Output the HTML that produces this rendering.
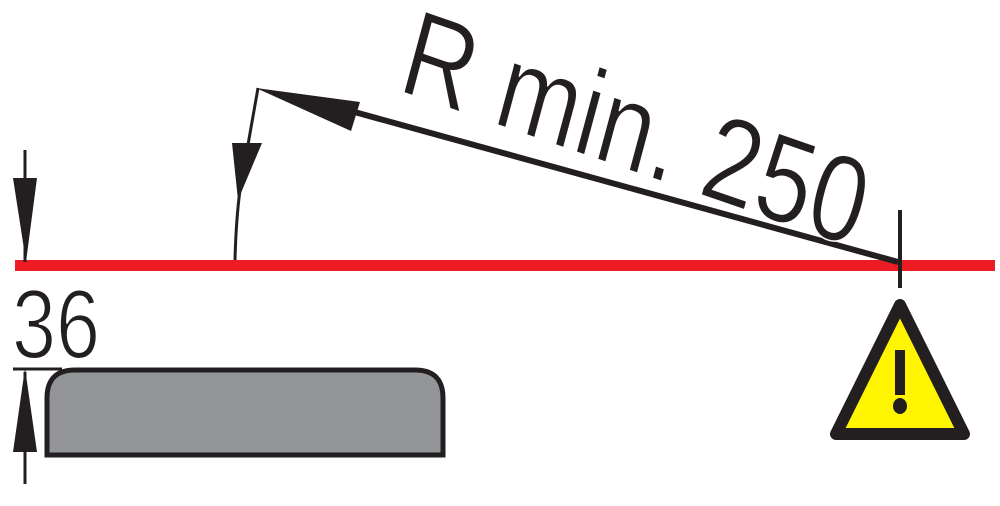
<!DOCTYPE html>
<html><head><style>
html,body{margin:0;padding:0;background:#fff;width:1000px;height:506px;overflow:hidden}
</style></head><body>
<svg width="1000" height="506" viewBox="0 0 1000 506" xmlns="http://www.w3.org/2000/svg">
<rect x="15" y="260" width="980" height="11" fill="#ed1c24"/>
<line x1="25" y1="150" x2="25" y2="262" stroke="#231f20" stroke-width="3"/>
<polygon points="13,178 37,178 26,262" fill="#231f20"/>
<text x="12" y="358" font-family="Liberation Sans, sans-serif" font-size="98" fill="#231f20" stroke="#fff" stroke-width="2" textLength="88" lengthAdjust="spacingAndGlyphs">36</text>
<line x1="13" y1="369" x2="62" y2="369" stroke="#231f20" stroke-width="3"/>
<line x1="25" y1="372" x2="25" y2="484" stroke="#231f20" stroke-width="3"/>
<polygon points="13,452 37,452 25,368" fill="#231f20"/>
<path d="M47,455 L47,398 Q47,370 75,370 L415,370 Q443,370 443,398 L443,455 Z" fill="#939598" stroke="#231f20" stroke-width="5"/>
<path d="M235,260 Q236,220 240,190 L258,88" fill="none" stroke="#231f20" stroke-width="3"/>
<polygon points="232,143 262,143 238,200" fill="#231f20"/>
<line x1="340" y1="108" x2="898" y2="262" stroke="#231f20" stroke-width="6"/>
<polygon points="256,88 360,102 351,131" fill="#231f20"/>
<line x1="900" y1="210" x2="900" y2="288" stroke="#231f20" stroke-width="4"/>
<g transform="translate(396,90) rotate(19)">
<text x="0" y="0" font-family="Liberation Sans, sans-serif" font-size="122" fill="#231f20" stroke="#fff" stroke-width="1.5" transform="skewX(4)" textLength="485" lengthAdjust="spacingAndGlyphs">R min. 250</text>
</g>
<polygon points="900,305 836,434 964,434" fill="#fff500" stroke="#231f20" stroke-width="12" stroke-linejoin="round"/>
<rect x="895" y="350" width="10" height="45" fill="#231f20"/>
<ellipse cx="900" cy="406" rx="7" ry="8" fill="#231f20"/>
</svg>
</body></html>
